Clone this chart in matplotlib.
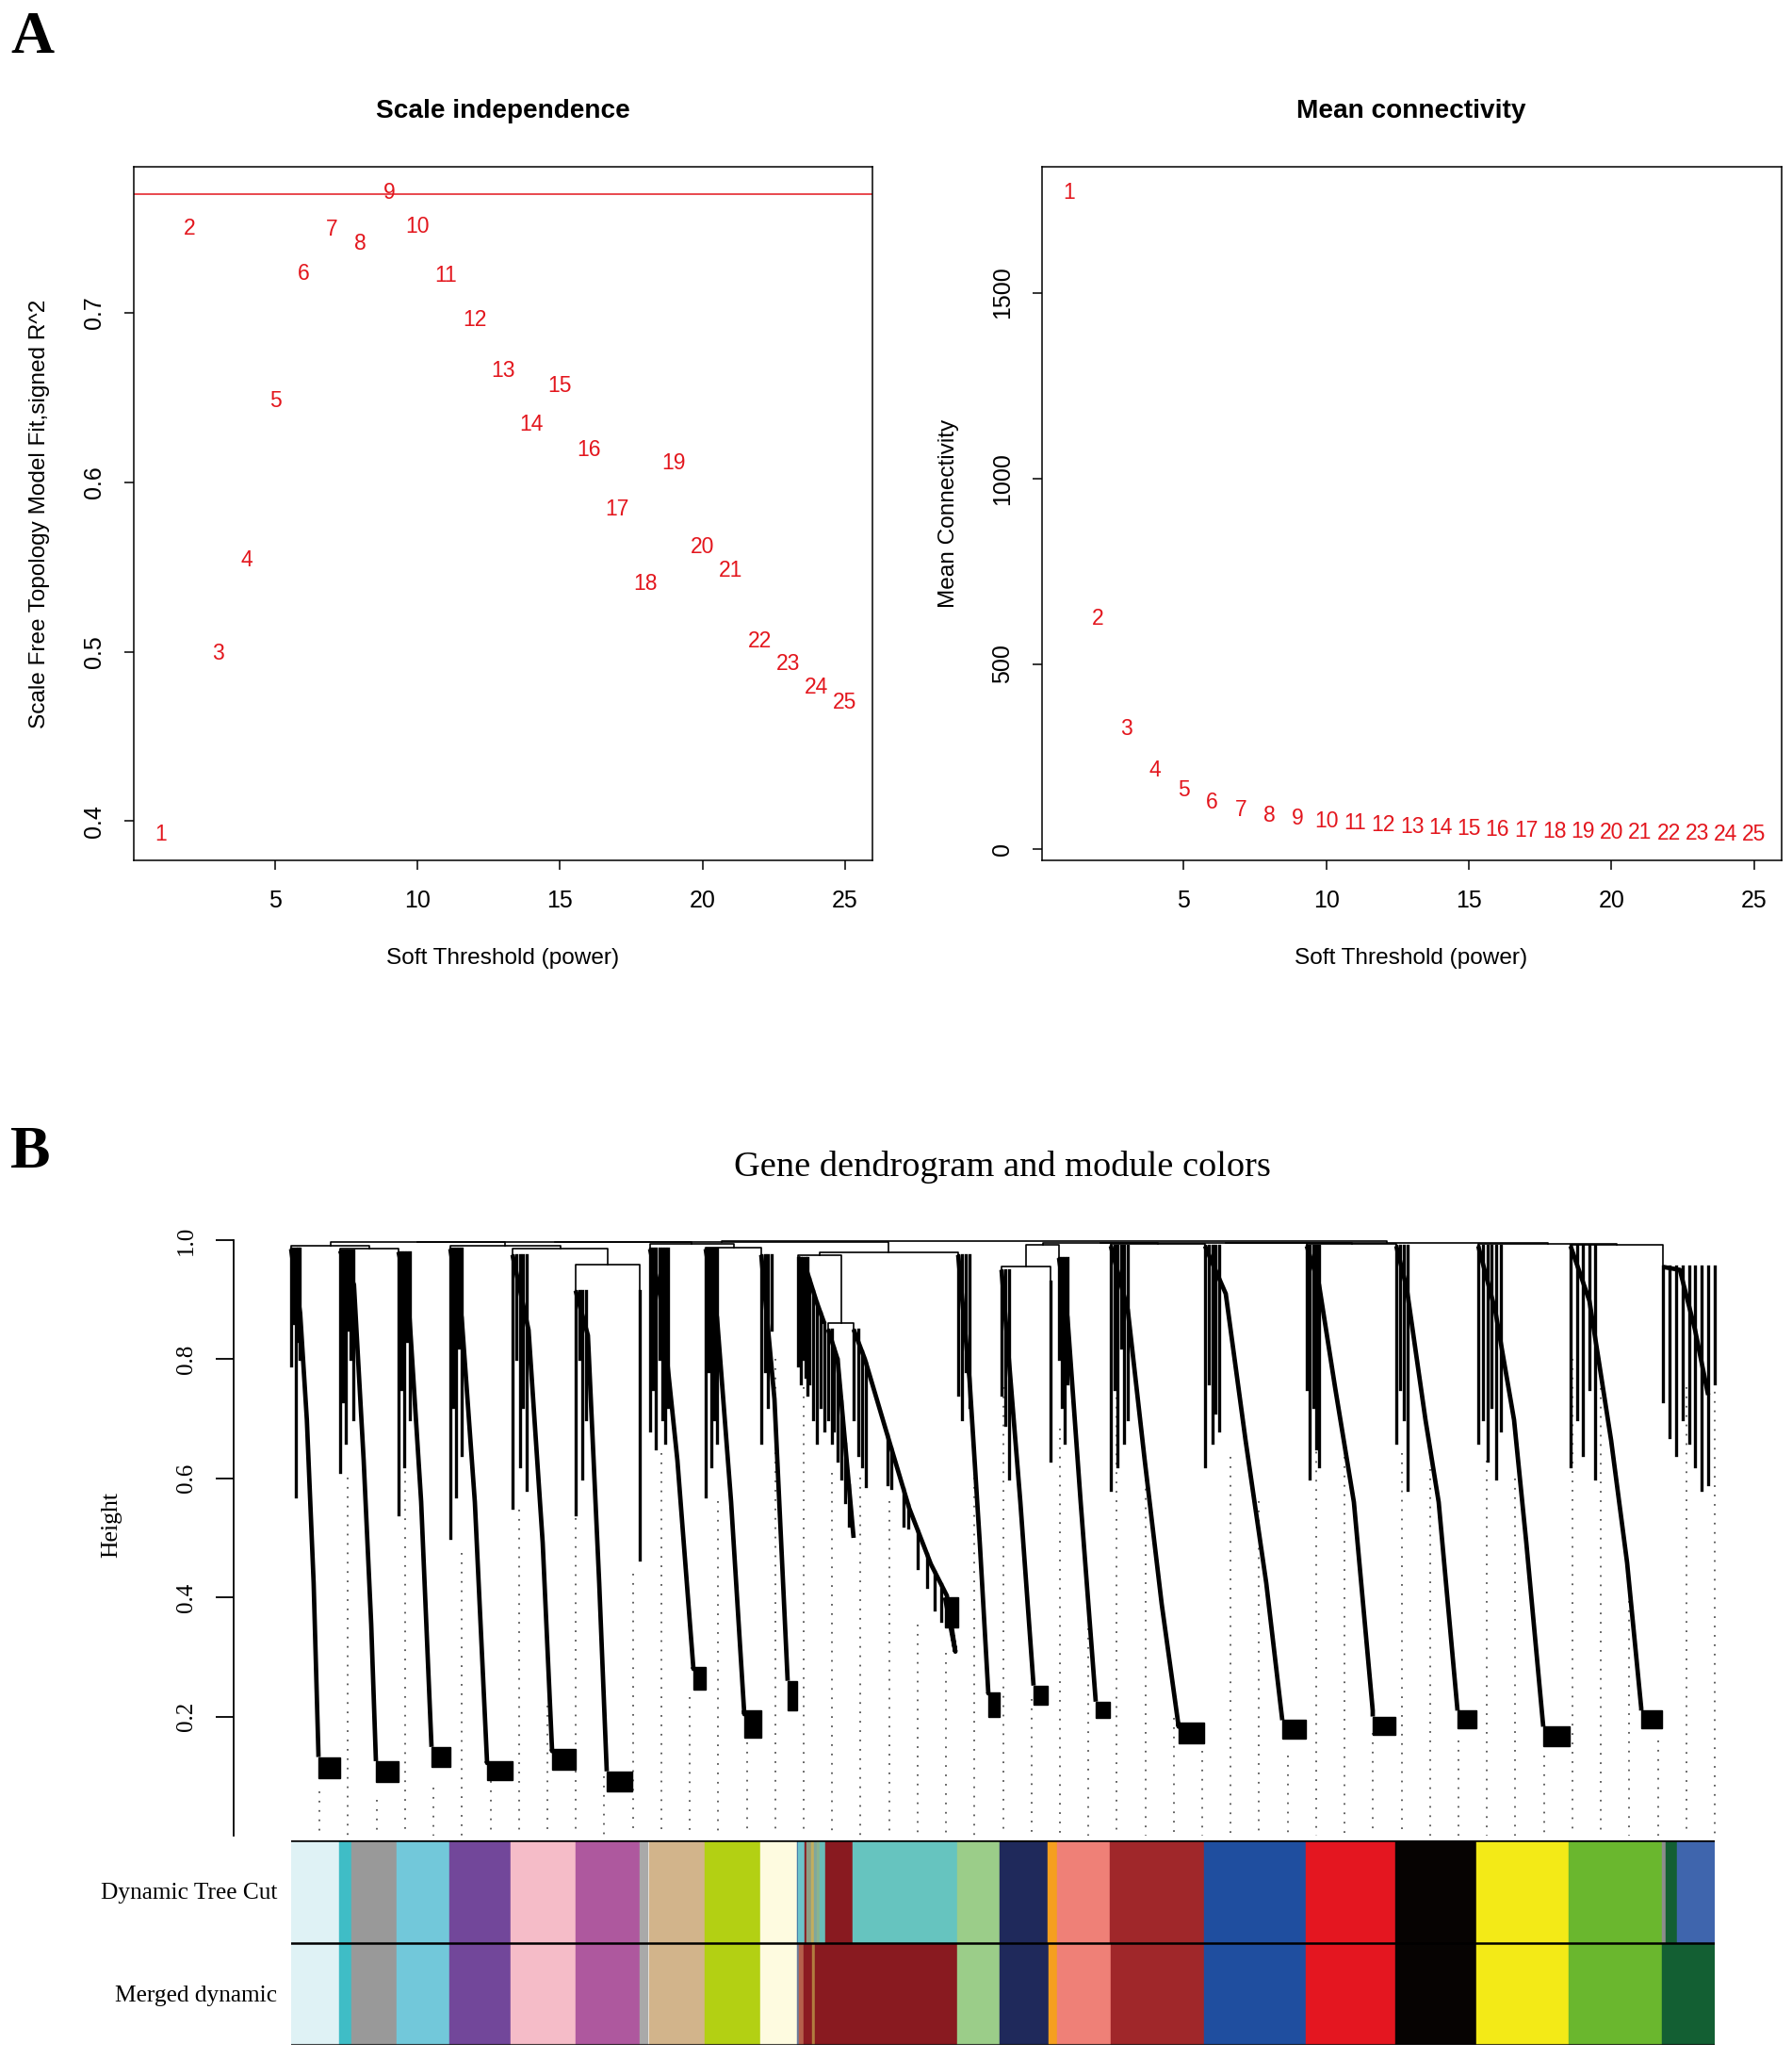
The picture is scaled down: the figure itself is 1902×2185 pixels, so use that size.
import numpy as np
import matplotlib.pyplot as plt
from matplotlib.patches import Rectangle

W_PX, H_PX = 1902, 2185
RED = '#e3161d'
SANS = 'Liberation Sans'
SERIF = 'Liberation Serif'

# ---- panel A: soft-threshold scan ----
powers = list(range(1, 26))
signed_r2 = [0.392, 0.750, 0.499, 0.554, 0.648, 0.723, 0.749, 0.741, 0.771, 0.751,
             0.722, 0.696, 0.666, 0.634, 0.657, 0.619, 0.584, 0.540, 0.611, 0.562,
             0.548, 0.506, 0.493, 0.479, 0.470]
mean_k = [1770, 623, 324, 214, 160, 128, 107, 92, 83, 76, 70, 65, 62, 58, 55,
          53, 51, 49, 48, 46, 45, 43, 42, 41, 40]
r2_cut = 0.77

# ---- panel B: module colour strips (widths in leaf-order units) ----
dynamic_colors = ['#dff2f5', '#3fbdc6', '#999999', '#72c8da', '#72479a', '#f5bcc8',
                  '#ae589e', '#a9a9a9', '#d2b48b', '#b3d013', '#fefbe0',
                  '#3d6fa3', '#6cc3cb', '#8b1a21', '#8f9d84', '#c2ae5e', '#7fa79d',
                  '#8ab38e', '#69bdb8',
                  '#891a20', '#66c4bf', '#9bcd89', '#1f295b', '#f59f1f', '#ef8077',
                  '#a0272a', '#1f4e9f', '#e41620', '#060302', '#f3ea17', '#6ab72e',
                  '#8d8d8d', '#135f33', '#3f65ad']
dynamic_widths = [50.6, 13, 48.2, 55.9, 64.9, 69, 68, 9.9, 59.7, 59.1, 38.7,
                  1.0, 7.3, 1.3, 5, 3.3, 3.3, 3.3, 5.2,
                  29.3, 111, 45, 51.5, 9.5, 56.5, 99.5, 108, 95, 86.4, 98, 98.6,
                  3.6, 12.4, 40]
merged_colors = ['#dff2f5', '#3fbdc6', '#999999', '#72c8da', '#72479a', '#f5bcc8',
                 '#ae589e', '#a9a9a9', '#d2b48b', '#b3d013', '#fefbe0',
                 '#6b7b9c', '#b65f4b', '#8b1a21', '#b27c3f',
                 '#891a20', '#9bcd89', '#1f295b', '#f59f1f', '#ef8077', '#a0272a',
                 '#1f4e9f', '#e41620', '#060302', '#f3ea17', '#6ab72e', '#135f33']
merged_widths = [50.6, 13, 48.2, 55.9, 64.9, 69, 68, 9.9, 59.7, 59.1, 38.7,
                 2.3, 5, 8.7, 3.3,
                 150.7, 45, 51.5, 9.5, 56.5, 99.5, 108, 95, 86.4, 98, 98.6, 56]
n_leaves = 1511

# ---- panel B: dendrogram branches, one entry per branch left to right ----
mod_left = [0, 52, 114, 169, 235, 302, 370, 381, 440, 499, 538, 570, 597, 708,
            754, 806, 815, 870, 970, 1078, 1173, 1260, 1358, 1456]
mod_root = [0.985, 0.982, 0.98, 0.985, 0.975, 0.915, 0.915, 0.985, 0.985, 0.975,
            0.97, 0.85, 0.85, 0.975, 0.95, 0.93, 0.97, 0.99, 0.99, 0.99, 0.99,
            0.99, 0.99, 0.955]
merge_gap = [0.990, 0.986, 0.9965, 0.990, 0.986, 0.959, 0.997, 0.993, 0.988, 0.997,
             0.975, 0.86, 0.979, 0.998, 0.955, 0.992, 0.995, 0.993, 0.996, 0.993,
             0.996, 0.993, 0.992]
fringe_end = [9, 66, 126, 181, 250, 313, 370, 400, 452, 510, 548, 574, 602, 720,
              762, 806, 824, 888, 985, 1091, 1185, 1284, 1384, 1511]
fringe_bottom = [[0.79, 0.86, 0.57, 0.83, 0.80],
                 [0.61, 0.73, 0.66, 0.85, 0.80, 0.70],
                 [0.54, 0.75, 0.62, 0.83, 0.70],
                 [0.50, 0.72, 0.57, 0.82, 0.64],
                 [0.55, 0.80, 0.62, 0.72, 0.58],
                 [0.54, 0.80, 0.60, 0.70],
                 [0.464],
                 [0.68, 0.75, 0.65, 0.80, 0.70, 0.66, 0.72],
                 [0.57, 0.78, 0.62, 0.70, 0.66],
                 [0.66, 0.78, 0.72, 0.85],
                 [0.79, 0.76, 0.80, 0.77, 0.74],
                 [0.70, 0.66],
                 [0.70, 0.64],
                 [0.74, 0.70, 0.78, 0.72],
                 [0.74, 0.69, 0.60],
                 [0.63],
                 [0.80, 0.72, 0.66, 0.76],
                 [0.58, 0.75, 0.62, 0.82, 0.66, 0.70],
                 [0.62, 0.76, 0.66, 0.71, 0.68],
                 [0.75, 0.60, 0.72, 0.65, 0.62],
                 [0.66, 0.75, 0.70, 0.58],
                 [0.66, 0.70, 0.63, 0.72, 0.60, 0.68],
                 [0.62, 0.70, 0.64, 0.75, 0.60],
                 [0.73, 0.67, 0.64, 0.70, 0.66, 0.62, 0.58, 0.59, 0.76]]
trunk_x = [[9.6, 16.7, 23.9, 29], [66.7, 77, 85, 90], [124, 138, 149], [181, 195, 208],
           [252, 267, 277], [315, 327, 335], [], [392, 410, 427], [452, 467, 481],
           [513, 527], [544, 558, 566], [580, 597],
           [609, 636, 656, 679, 696, 705],
           [720, 731, 740], [760, 774, 788], [], [824, 838, 854],
           [888, 906, 924, 942], [992, 1013, 1035, 1052], [1091, 1108, 1128, 1148],
           [1184, 1204, 1218, 1238], [1278, 1298, 1311, 1329],
           [1378, 1401, 1418, 1433], [1474, 1490, 1504]]
trunk_h = [[0.877, 0.698, 0.424, 0.136], [0.925, 0.63, 0.355, 0.125],
           [0.911, 0.561, 0.149], [0.87, 0.56, 0.122], [0.849, 0.492, 0.142],
           [0.84, 0.424, 0.108], [], [0.905, 0.63, 0.28], [0.87, 0.56, 0.204],
           [0.733, 0.26], [0.965, 0.895, 0.86], [0.80, 0.50],
           [0.80, 0.656, 0.55, 0.456, 0.403, 0.309], [0.767, 0.49, 0.239],
           [0.835, 0.56, 0.252], [], [0.87, 0.56, 0.225],
           [0.883, 0.63, 0.389, 0.183], [0.91, 0.664, 0.424, 0.194],
           [0.925, 0.753, 0.56, 0.21], [0.92, 0.698, 0.56, 0.21],
           [0.882, 0.698, 0.492, 0.183], [0.898, 0.664, 0.458, 0.214],
           [0.95, 0.85, 0.74]]
# leaves hanging off the trunk (x position, lowest height)
hang_x = [[], [], [], [], [], [], [], [], [], [],
          [550, 554, 558, 562, 566],
          [576, 580, 584, 588, 592],
          [606, 610, 633, 637, 650, 655, 665, 675, 683, 690],
          [], [], [], [], [], [], [], [], [], [], []]
hang_bottom = [[], [], [], [], [], [], [], [], [], [],
               [0.76, 0.70, 0.66, 0.72, 0.68],
               [0.68, 0.63, 0.60, 0.56, 0.52],
               [0.62, 0.587, 0.59, 0.584, 0.52, 0.518, 0.45, 0.418, 0.38, 0.36],
               [], [], [], [], [], [], [], [], [], [], []]
block_x0 = [29, 90, 149, 208, 277, 335, None, 427, 481, 527, None, None, 694, 740,
            788, None, 854, 942, 1052, 1148, 1238, 1329, 1433, None]
block_x1 = [52, 114, 169, 235, 302, 362, None, 440, 499, 537, None, None, 708, 752,
            803, None, 869, 969, 1077, 1172, 1258, 1357, 1455, None]
block_top = [0.132, 0.125, 0.149, 0.125, 0.145, 0.108, None, 0.283, 0.21, 0.26,
             None, None, 0.40, 0.24, 0.252, None, 0.225, 0.19, 0.194, 0.20, 0.21,
             0.183, 0.21, None]
block_bottom = [0.096, 0.09, 0.115, 0.094, 0.11, 0.074, None, 0.245, 0.165, 0.21,
                None, None, 0.35, 0.20, 0.22, None, 0.198, 0.155, 0.163, 0.17, 0.18,
                0.15, 0.18, None]
# top of the dotted guide lines (50 guides)
guide_top = [0.074, 0.602, 0.06, 0.705, 0.08, 0.475, 0.091, 0.547, 0.218, 0.533,
             0.10, 0.44, 0.643, 0.232, 0.561, 0.156, 0.80, 0.753, 0.609, 0.602,
             0.561, 0.355, 0.307, 0.602, 0.753, 0.23, 0.684, 0.348, 0.767, 0.63,
             0.197, 0.142, 0.636, 0.561, 0.135, 0.739, 0.636, 0.173, 0.643, 0.615,
             0.16, 0.63, 0.60, 0.135, 0.80, 0.767, 0.41, 0.16, 0.753, 0.777]


def rect(x0, y0, x1, y1):
    return [x0 / W_PX, 1 - y1 / H_PX, (x1 - x0) / W_PX, (y1 - y0) / H_PX]


def ftext(x, y, s, **kw):
    fig.text(x / W_PX, 1 - y / H_PX, s, **kw)


def padded(vals):
    lo, hi = min(vals), max(vals)
    d = 0.04 * (hi - lo)
    return lo - d, hi + d


fig = plt.figure(figsize=(W_PX / 100, H_PX / 100), dpi=100)


def threshold_panel(box, values, yticks, title, ylabel, title_x, ylab_x):
    ax = fig.add_axes(rect(*box))
    for p, v in zip(powers, values):
        ax.text(p, v, str(p), color=RED, fontsize=16.5, family=SANS,
                ha='center', va='center')
    ax.set_xlim(padded(powers))
    ax.set_ylim(padded(values))
    ax.set_xticks([5, 10, 15, 20, 25])
    ax.set_yticks(yticks)
    ax.set_yticklabels([str(t) for t in yticks], rotation=90, va='center')
    for lab in ax.get_xticklabels() + ax.get_yticklabels():
        lab.set_family(SANS)
    ax.tick_params(direction='out', length=7.5, width=1.1, labelsize=18)
    ax.tick_params(axis='x', pad=15)
    ax.tick_params(axis='y', pad=14)
    for sp in ax.spines.values():
        sp.set_linewidth(1.1)
    ftext(title_x, 118, title, fontsize=20.2, fontweight='bold', family=SANS,
          ha='center', va='center')
    ftext(title_x, 1017, 'Soft Threshold (power)', fontsize=17.6, family=SANS,
          ha='center', va='center')
    ftext(ylab_x, 545, ylabel, fontsize=17.6, family=SANS, rotation=90,
          ha='center', va='center')
    return ax


ax1 = threshold_panel((142, 177, 926, 913), signed_r2, [0.4, 0.5, 0.6, 0.7],
                      'Scale independence',
                      'Scale Free Topology Model Fit,signed R^2', 534, 42)
ax1.axhline(r2_cut, color=RED, lw=1.1)
ax2 = threshold_panel((1106, 177, 1891, 913), mean_k, [0, 500, 1000, 1500],
                      'Mean connectivity', 'Mean Connectivity', 1498, 1007)

ftext(11, 56, 'A', fontsize=46, fontweight='bold', family=SERIF, va='baseline')
ftext(11, 1239, 'B', fontsize=46, fontweight='bold', family=SERIF, va='baseline')

# ---- panel B dendrogram ----
axd = fig.add_axes(rect(248, 1300, 1830, 1950))
axd.set_xlim(-61, n_leaves + 10)
axd.set_ylim(-0.0032, 1.0253)
for s in ['top', 'right', 'bottom']:
    axd.spines[s].set_visible(False)
axd.spines['left'].set_bounds(0, 1.0)
axd.spines['left'].set_linewidth(1.3)
axd.set_xticks([])
hticks = [0.2, 0.4, 0.6, 0.8, 1.0]
axd.set_yticks(hticks)
axd.set_yticklabels(['%.1f' % t for t in hticks], rotation=90, va='center',
                    family=SERIF)
axd.tick_params(axis='y', direction='out', length=13.7, width=1.3, labelsize=18,
                pad=14.5)

LW = 1.2
step = n_leaves / len(guide_top)
for i, top in enumerate(guide_top):
    gx = (i + 1) * step
    axd.plot([gx, gx], [top, 0.0], color='#555555', lw=1.3,
             linestyle=(0, (1, 4.5)), zorder=1)

for i in range(len(mod_left)):
    left, root = mod_left[i], mod_root[i]
    bots = fringe_bottom[i]
    n = len(bots)
    for j, b in enumerate(bots):
        fxp = left if n == 1 else left + j * (fringe_end[i] - left) / (n - 1)
        axd.plot([fxp, fxp], [root, b], color='black', lw=2.4, zorder=2)
    xs = [left] + trunk_x[i]
    hs = [root] + trunk_h[i]
    if block_x0[i] is not None:
        xs.append(block_x0[i])
        hs.append(block_top[i])
    for hx, hb in zip(hang_x[i], hang_bottom[i]):
        ht = float(np.interp(hx, xs, hs))
        axd.plot([hx, hx], [ht, hb], color='black', lw=2.4, zorder=2)
    if len(xs) > 1:
        axd.plot(xs, hs, color='black', lw=3.4, solid_joinstyle='round',
                 solid_capstyle='butt', zorder=2)
    if block_x0[i] is not None:
        axd.add_patch(Rectangle((block_x0[i], block_bottom[i]),
                                block_x1[i] - block_x0[i],
                                block_top[i] - block_bottom[i],
                                fc='black', ec='black', lw=1, zorder=2))

# top-level merges between branches
clusters = [(mod_left[i], mod_root[i]) for i in range(len(mod_left))]
gaps = list(merge_gap)
while len(clusters) > 1:
    k = gaps.index(min(gaps))
    (xa, ta), (xb, tb) = clusters[k], clusters[k + 1]
    g = gaps[k]
    axd.plot([xa, xa, xb, xb], [ta, g, g, tb], color='black', lw=LW, zorder=2)
    clusters[k:k + 2] = [((xa + xb) / 2, g)]
    del gaps[k]

ftext(1064, 1239, 'Gene dendrogram and module colors', fontsize=27.6, family=SERIF,
      ha='center', va='center')
ftext(118, 1618, 'Height', fontsize=18.5, family=SERIF, rotation=90,
      ha='center', va='center')

# ---- colour rows ----
axc = fig.add_axes(rect(309, 1953, 1820, 2170))
axc.set_xlim(0, n_leaves)
axc.set_ylim(0, 2)
axc.axis('off')
for row, (cols, widths) in enumerate([(merged_colors, merged_widths),
                                      (dynamic_colors, dynamic_widths)]):
    start = 0
    for c, w in zip(cols, widths):
        axc.barh(row + 0.5, w, left=start, height=1, color=c, ec=c, lw=0.3)
        start += w
for yl in [0, 1, 2]:
    axc.axhline(yl, color='black', lw=1.8)
ftext(294, 2009, 'Dynamic Tree Cut', fontsize=18.3, family=SERIF,
      ha='right', va='center')
ftext(294, 2118, 'Merged dynamic', fontsize=18.3, family=SERIF,
      ha='right', va='center')

fig.savefig('out.png', dpi=100)
